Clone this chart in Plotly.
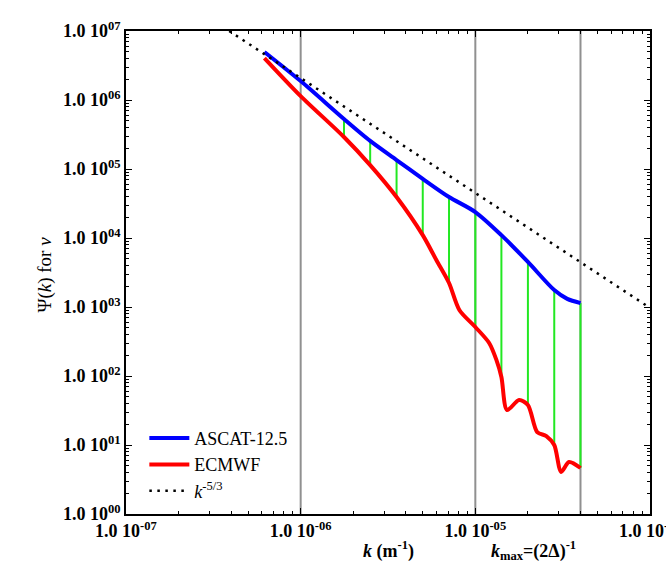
import plotly.graph_objects as go

# ---- data ----
k_ascat = [6.2e-7, 1.0e-6, 1.77e-6, 2.5e-6, 3.54e-6, 5.0e-6, 7.07e-6, 1.0e-5,
           1.41e-5, 2.0e-5, 2.83e-5, 3.36e-5, 4.0e-5]
psi_ascat = [4.97e6, 1.88e6, 5.3e5, 2.55e5, 1.35e5, 7.2e4, 3.93e4, 2.38e4,
             1.10e4, 4.5e3, 1.76e3, 1.31e3, 1.14e3]

k_ecmwf = [6.2e-7, 1.0e-6, 1.77e-6, 2.5e-6, 3.54e-6, 5.0e-6, 5.98e-6, 7.07e-6,
           8.1e-6, 1.0e-5, 1.2e-5, 1.32e-5, 1.41e-5, 1.52e-5, 1.78e-5, 2.0e-5,
           2.26e-5, 2.55e-5, 2.83e-5, 3.1e-5, 3.44e-5, 4.0e-5]
psi_ecmwf = [4.06e6, 1.14e6, 2.91e5, 1.14e5, 3.93e4, 1.10e4, 4.8e3, 2.23e3,
             9.06e2, 5.13e2, 3.01e2, 1.71e2, 96.8, 32.1, 44.9, 38.0,
             15.4, 13.5, 10.0, 4.07, 5.67, 4.64]

k_ref = [3.9e-7, 1.0e-4]
psi_ref = [1.0e7, 9.7e2]

k_r2 = [1.77e-6, 2.5e-6, 3.54e-6, 5.0e-6, 7.07e-6, 1.0e-5, 1.41e-5, 2.0e-5, 2.83e-5, 4.0e-5]

scale_k = [1.0e-6, 1.0e-5, 4.0e-5]
scale_labels = ["1000 km", "100 km", "25 km"]

x_ticks = [1e-7, 1e-6, 1e-5, 1e-4]
x_ticktext = ["1.0 10<sup>-07</sup>", "1.0 10<sup>-06</sup>", "1.0 10<sup>-05</sup>", "1.0 10<sup>-04</sup>"]
y_ticks = [1e0, 1e1, 1e2, 1e3, 1e4, 1e5, 1e6, 1e7]
y_ticktext = ["1.0 10<sup>%02d</sup>" % i for i in range(8)]

FONT = "Liberation Serif"

# green connectors between the two spectra
gx, gy = [], []
for kk in k_r2:
    top = psi_ascat[k_ascat.index(kk)]
    bot = psi_ecmwf[k_ecmwf.index(kk)]
    gx += [kk, kk, None]
    gy += [bot, top, None]

fig = go.Figure()
fig.add_trace(go.Scatter(x=gx, y=gy, mode="lines", line=dict(color="#22e822", width=2),
                         showlegend=False, hoverinfo="skip"))
fig.add_trace(go.Scatter(x=k_ascat, y=psi_ascat, mode="lines", name="ASCAT-12.5",
                         line=dict(color="#0000ff", width=4, shape="spline", smoothing=0.8)))
fig.add_trace(go.Scatter(x=k_ecmwf, y=psi_ecmwf, mode="lines", name="ECMWF",
                         line=dict(color="#ff0000", width=4, shape="spline", smoothing=0.8)))
fig.add_trace(go.Scatter(x=k_ref, y=psi_ref, mode="lines", name="<i>k</i><sup>-5/3</sup>",
                         line=dict(color="black", width=2.5, dash="2.5px,5.5px")))

for kk, lab in zip(scale_k, scale_labels):
    fig.add_shape(type="line", x0=kk, x1=kk, y0=0, y1=1, xref="x", yref="paper",
                  line=dict(color="#909090", width=2), layer="below")
    fig.add_annotation(x=kk, xref="x", y=1.035, yref="paper", text="<b>%s</b>" % lab,
                       showarrow=False, font=dict(family=FONT, size=17, color="black"),
                       yanchor="middle")

minor_x = [m * 10.0 ** e for e in range(-7, -4) for m in range(2, 10)]
minor_y = [m * 10.0 ** e for e in range(0, 7) for m in range(2, 10)]

axis_common = dict(type="log", showgrid=False, zeroline=False, showline=True,
                   linecolor="black", linewidth=1.5, mirror="ticks", ticks="inside",
                   ticklen=6, tickwidth=1.2, tickcolor="black",
                   ticklabeloverflow="allow", automargin=False,
                   tickfont=dict(family=FONT, size=18, color="black"))

fig.update_xaxes(range=[-7, -4], tickmode="array", tickvals=x_ticks,
                 ticktext=["<b>%s</b>" % t for t in x_ticktext],
                 minor=dict(tickmode="array", tickvals=minor_x, ticks="inside",
                            ticklen=3, tickcolor="black", showgrid=False),
                 **axis_common)
fig.update_yaxes(range=[0, 7], tickmode="array", tickvals=y_ticks,
                 ticktext=["<b>%s</b>" % t for t in y_ticktext],
                 minor=dict(tickmode="array", tickvals=minor_y, ticks="inside",
                            ticklen=3, tickcolor="black", showgrid=False),
                 **axis_common)

fig.add_annotation(x=0.5, xref="paper", y=-0.075, yref="paper",
                   text="<b><i>k</i> (m<sup>-1</sup>)</b>", showarrow=False,
                   font=dict(family=FONT, size=18, color="black"), yanchor="middle")
fig.add_annotation(x=0.862, xref="paper", y=-0.075, yref="paper",
                   text="<b><i>k</i><sub>max</sub>=(2Δ)<sup>-1</sup></b>", showarrow=False,
                   font=dict(family=FONT, size=18, color="black"), yanchor="middle")
fig.add_annotation(x=-0.18, xref="paper", y=0.495, yref="paper", textangle=-90,
                   text="Ψ(<i>k</i>) for <i>v</i>", showarrow=False,
                   font=dict(family=FONT, size=19, color="black"))
fig.add_annotation(x=1.27e-5, xref="x", y=3.25, yref="y",
                   text="<b><i>r</i><sup>2</sup></b>", showarrow=False,
                   font=dict(family=FONT, size=19, color="#22dd22"))

fig.update_layout(
    width=666, height=567,
    margin=dict(l=126, r=16, t=31, b=53, autoexpand=False),
    paper_bgcolor="white", plot_bgcolor="white",
    showlegend=True,
    legend=dict(x=0.035, y=0.195, xanchor="left", yanchor="top",
                bgcolor="rgba(0,0,0,0)", borderwidth=0,
                font=dict(family=FONT, size=18, color="black"),
                tracegroupgap=0, itemwidth=40),
)

fig.write_html("out.html")
